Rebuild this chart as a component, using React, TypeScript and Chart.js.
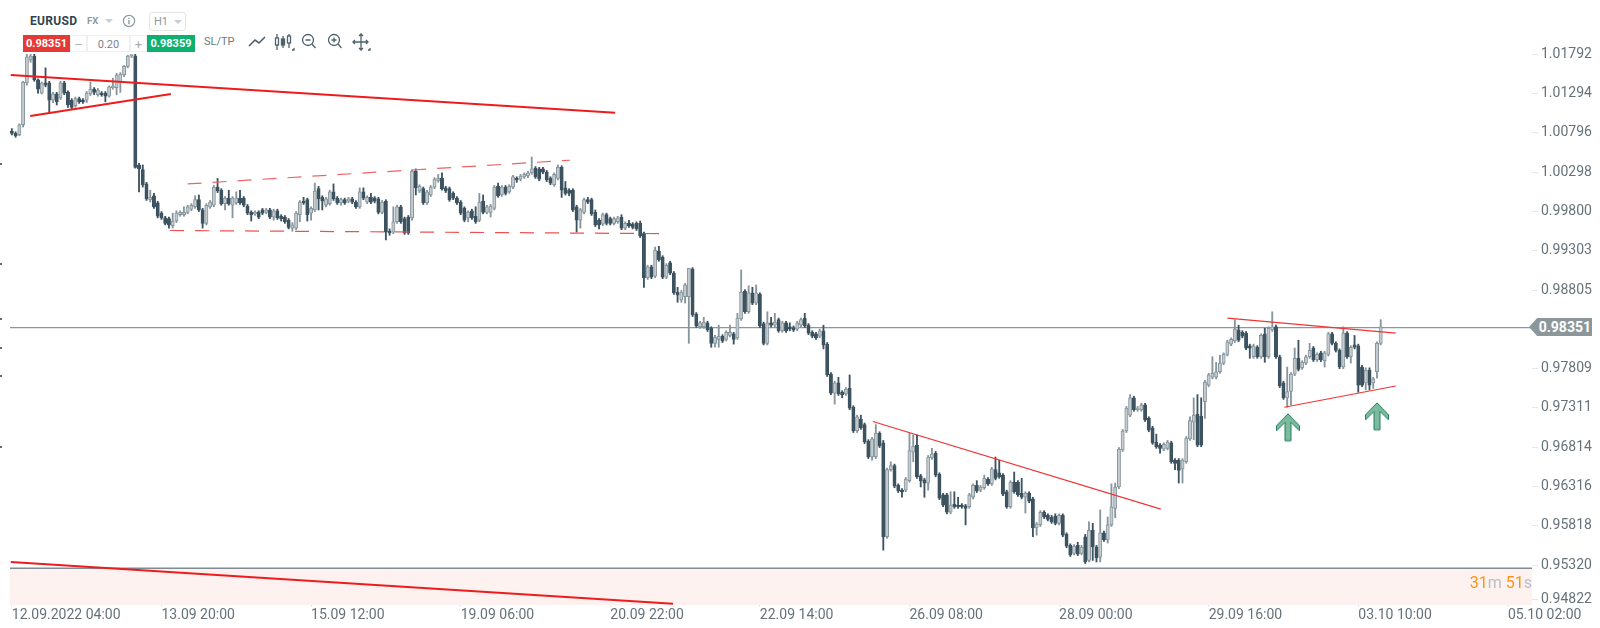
import React, { useEffect, useRef } from "react";
import { Chart, registerables } from "chart.js";

Chart.register(...registerables);

// EURUSD H1 candles, in pips (price x 10000), one entry per hour.
const opens = [
  10082,10079,10077,10090,10143,10172,10177,10147,10130,10143,
  10143,10121,10129,10124,10143,10131,10121,10114,10123,10121,
  10121,10129,10135,10128,10130,10130,10126,10137,10137,10144,
  10153,10164,10177,10177,10039,10033,10015,9995,10000,9991,
  9978,9972,9971,9962,9968,9976,9976,9979,9983,9986,
  9995,9982,9965,9986,9988,10011,10007,9990,9997,9988,
  9991,9997,9997,9987,9979,9977,9979,9982,9979,9982,
  9973,9981,9974,9973,9969,9959,9959,9976,9993,9995,
  9978,9982,10009,9998,9988,9990,10005,9997,9991,9995,
  9993,9996,9992,9986,10005,9992,9998,9997,9996,9979,
  9993,9955,9954,9967,9986,9971,9973,9972,10031,10006,
  10009,9991,10001,10011,10019,10022,10010,10009,10003,9997,
  9992,9984,9972,9981,9974,9969,9993,9979,9979,9984,
  10012,10001,10011,10005,10011,10022,10021,10024,10025,10029,
  10035,10034,10034,10030,10022,10014,10022,10036,10010,10007,
  10007,9986,9969,9979,9995,9995,9979,9969,9964,9976,
  9971,9965,9967,9973,9959,9965,9964,9965,9965,9952,
  9896,9910,9898,9930,9922,9897,9915,9902,9878,9868,
  9872,9872,9907,9850,9834,9834,9839,9832,9813,9818,
  9822,9818,9823,9825,9820,9844,9879,9853,9877,9864,
  9875,9838,9813,9839,9836,9843,9829,9839,9834,9832,
  9831,9836,9845,9836,9827,9825,9822,9829,9812,9774,
  9750,9763,9751,9749,9756,9732,9702,9717,9710,9689,
  9669,9669,9699,9687,9568,9653,9658,9633,9627,9627,
  9639,9675,9684,9645,9640,9636,9668,9674,9647,9621,
  9621,9599,9609,9608,9608,9607,9606,9618,9633,9627,
  9630,9641,9635,9653,9649,9646,9625,9606,9637,9637,
  9623,9618,9623,9616,9579,9583,9599,9595,9593,9594,
  9585,9595,9571,9557,9547,9557,9547,9568,9538,9576,
  9555,9542,9573,9564,9583,9604,9631,9678,9702,9722,
  9744,9729,9729,9735,9718,9706,9688,9684,9679,9680,
  9687,9665,9665,9654,9663,9692,9713,9723,9721,9739,
  9760,9770,9770,9777,9788,9799,9812,9816,9830,9827,
  9826,9810,9796,9808,9796,9825,9796,9830,9834,9796,
  9763,9744,9752,9774,9794,9782,9788,9796,9807,9792,
  9801,9791,9799,9825,9813,9804,9783,9826,9796,9811,
  9810,9783,9763,9779,9763,9777,9813,
];
const highs = [
  10085,10081,10091,10145,10185,10185,10185,10148,10144,10162,
  10145,10131,10131,10145,10145,10133,10123,10125,10125,10123,
  10132,10144,10137,10136,10132,10132,10139,10149,10155,10156,
  10165,10178,10190,10180,10041,10039,10017,10007,10003,9993,
  9980,9974,9973,9978,9981,9981,9986,9988,9990,10000,
  10001,9984,9990,9994,10013,10022,10009,9999,10007,9999,
  10005,10007,9999,9989,9981,9981,9981,9984,9984,9984,
  9983,9983,9976,9975,9971,9966,9980,9994,9998,9997,
  9986,10016,10012,10000,9998,10007,10015,9999,9997,9997,
  9998,9998,9994,10010,10010,10000,10003,9999,9998,9994,
  9995,9958,9986,9988,9988,9973,9975,10033,10034,10014,
  10011,10007,10013,10023,10027,10029,10012,10011,10005,9999,
  9994,9986,9981,9983,9986,10003,10001,9988,9989,10013,
  10016,10013,10013,10014,10026,10024,10027,10029,10031,10049,
  10037,10036,10036,10032,10024,10029,10039,10038,10018,10009,
  10009,9988,9984,9997,9998,9997,9982,9971,9978,9978,
  9973,9973,9974,9976,9967,9969,9966,9967,9968,9954,
  9912,9912,9935,9936,9924,9914,9917,9904,9884,9880,
  9889,9908,9909,9852,9841,9846,9841,9834,9823,9836,
  9824,9829,9836,9827,9851,9906,9881,9886,9884,9887,
  9877,9840,9853,9846,9851,9845,9841,9841,9839,9835,
  9841,9845,9851,9838,9829,9827,9831,9836,9814,9776,
  9765,9770,9753,9757,9773,9734,9722,9722,9712,9691,
  9694,9710,9701,9690,9655,9663,9660,9635,9629,9643,
  9699,9697,9697,9647,9642,9671,9680,9676,9649,9623,
  9623,9625,9625,9618,9610,9609,9623,9635,9639,9633,
  9646,9643,9656,9669,9665,9648,9627,9639,9650,9639,
  9642,9625,9625,9618,9586,9601,9601,9597,9595,9597,
  9597,9597,9573,9559,9558,9561,9557,9571,9587,9585,
  9557,9602,9575,9593,9635,9636,9681,9704,9733,9748,
  9746,9733,9737,9737,9720,9708,9698,9686,9687,9690,
  9689,9667,9667,9667,9695,9720,9744,9748,9744,9766,
  9775,9796,9789,9798,9801,9817,9820,9843,9836,9829,
  9828,9812,9812,9810,9825,9832,9834,9853,9836,9798,
  9765,9783,9776,9807,9817,9791,9798,9813,9809,9801,
  9803,9803,9827,9827,9815,9806,9834,9828,9810,9823,
  9812,9785,9782,9782,9770,9815,9843,
];
const lows = [
  10077,10074,10076,10087,10140,10169,10145,10130,10129,10138,
  10106,10118,10115,10122,10128,10112,10110,10112,10117,10117,
  10118,10127,10128,10126,10126,10119,10125,10135,10128,10131,
  10151,10162,10175,10035,10005,10011,9994,9992,9984,9972,
  9970,9963,9959,9959,9966,9974,9974,9977,9981,9984,
  9980,9959,9963,9984,9986,10004,9988,9982,9988,9972,
  9989,9989,9986,9976,9968,9975,9971,9976,9977,9971,
  9969,9970,9968,9965,9958,9955,9957,9967,9989,9968,
  9969,9980,9982,9982,9986,9988,9994,9989,9988,9989,
  9991,9990,9984,9984,9995,9990,9990,9991,9977,9977,
  9944,9950,9952,9965,9965,9951,9951,9969,10001,10004,
  9989,9989,9999,10009,10017,10007,10004,9993,9995,9989,
  9976,9967,9967,9970,9965,9967,9977,9977,9973,9982,
  9998,9999,10001,10003,10009,10017,10019,10022,10023,10027,
  10022,10019,10028,10018,10014,10012,10020,9998,10001,10000,
  9980,9954,9959,9977,9990,9975,9961,9958,9962,9963,
  9963,9963,9965,9957,9957,9960,9958,9956,9947,9884,
  9894,9895,9896,9917,9895,9895,9900,9875,9865,9865,
  9864,9813,9847,9833,9832,9832,9828,9808,9808,9808,
  9814,9816,9821,9812,9818,9842,9851,9851,9862,9862,
  9833,9811,9811,9834,9834,9827,9827,9827,9829,9828,
  9829,9834,9833,9824,9820,9818,9820,9806,9771,9748,
  9736,9747,9744,9747,9729,9700,9700,9704,9686,9667,
  9665,9667,9681,9551,9566,9651,9630,9624,9618,9625,
  9637,9663,9642,9631,9618,9627,9666,9644,9615,9606,
  9597,9597,9604,9604,9604,9583,9604,9616,9624,9625,
  9628,9633,9633,9640,9642,9620,9604,9604,9623,9619,
  9616,9598,9611,9568,9570,9581,9591,9588,9585,9583,
  9583,9568,9554,9543,9545,9544,9545,9534,9536,9538,
  9536,9536,9562,9560,9581,9592,9629,9676,9700,9720,
  9727,9727,9727,9714,9701,9685,9680,9674,9677,9678,
  9661,9653,9636,9636,9661,9690,9691,9682,9682,9718,
  9758,9768,9768,9775,9786,9797,9810,9814,9815,9820,
  9805,9794,9794,9794,9794,9789,9794,9828,9794,9757,
  9742,9732,9735,9772,9778,9780,9786,9794,9790,9790,
  9790,9783,9797,9811,9802,9781,9781,9794,9788,9806,
  9751,9758,9754,9754,9756,9769,9811,
];
const closes = [
  10079,10076,10090,10144,10176,10177,10147,10135,10143,10140,
  10121,10129,10119,10143,10130,10115,10112,10123,10119,10119,
  10130,10135,10131,10134,10128,10126,10138,10139,10153,10154,
  10164,10177,10182,10036,10034,10014,9996,9998,9986,9974,
  9972,9965,9963,9968,9978,9979,9979,9986,9988,9995,
  9982,9965,9988,9992,10011,10006,9990,9997,9990,9997,
  9997,9991,9988,9978,9976,9979,9973,9978,9982,9973,
  9981,9972,9971,9967,9960,9963,9978,9992,9991,9976,
  9984,10006,9996,9993,9996,10005,9996,9991,9995,9991,
  9996,9992,9986,10005,9997,9998,9992,9993,9979,9992,
  9954,9953,9967,9986,9967,9953,9953,10031,10010,10012,
  9991,10005,10011,10021,10022,10009,10006,9995,9997,9991,
  9978,9969,9979,9972,9967,9992,9979,9986,9987,10011,
  10000,10011,10003,10012,10024,10020,10025,10027,10029,10034,
  10024,10021,10030,10020,10016,10027,10036,10007,10003,10003,
  9982,9969,9982,9995,9992,9977,9963,9963,9976,9965,
  9965,9971,9972,9959,9965,9962,9960,9958,9949,9896,
  9910,9897,9931,9919,9897,9912,9902,9877,9874,9878,
  9887,9908,9849,9835,9839,9840,9830,9813,9821,9822,
  9816,9827,9827,9818,9845,9878,9853,9877,9864,9877,
  9835,9813,9839,9836,9840,9829,9839,9829,9831,9830,
  9839,9843,9835,9826,9822,9820,9829,9811,9773,9750,
  9763,9749,9748,9755,9731,9702,9720,9706,9688,9669,
  9692,9699,9683,9568,9653,9658,9632,9626,9625,9641,
  9677,9683,9644,9639,9636,9669,9673,9646,9617,9608,
  9599,9608,9606,9606,9606,9604,9621,9633,9626,9631,
  9642,9635,9654,9642,9644,9622,9606,9637,9625,9621,
  9618,9623,9613,9579,9584,9599,9593,9590,9587,9585,
  9595,9570,9556,9545,9556,9546,9555,9536,9576,9555,
  9541,9573,9564,9583,9606,9631,9679,9702,9731,9744,
  9729,9731,9735,9716,9703,9687,9682,9680,9685,9688,
  9663,9661,9652,9665,9693,9715,9722,9684,9684,9764,
  9773,9775,9777,9788,9799,9815,9818,9831,9817,9822,
  9807,9807,9810,9796,9823,9796,9832,9834,9796,9759,
  9744,9752,9774,9794,9780,9789,9796,9804,9792,9799,
  9792,9801,9825,9813,9804,9783,9826,9796,9808,9808,
  9760,9760,9779,9760,9768,9813,9834,
];

// Axis: candle indexes of the time labels, pip positions of the price labels.
const xTickIndexes = [0, 40, 80, 120, 160, 200, 240, 280, 320, 360, 400];
const xTickLabels = [
  "12.09.2022 04:00", "13.09 20:00", "15.09 12:00", "19.09 06:00", "20.09 22:00", "22.09 14:00",
  "26.09 08:00", "28.09 00:00", "29.09 16:00", "03.10 10:00", "05.10 02:00",
];
const yTickValues = [9489, 9532, 9581.8, 9631.6, 9681.4, 9731.1, 9780.9, 9880.5, 9930.3, 9980, 10029.8, 10079.6, 10129.4, 10179.2];
const yTickLabels = [
  "0.94822", "0.95320", "0.95818", "0.96316", "0.96814", "0.97311", "0.97809",
  "0.98805", "0.99303", "0.99800", "1.00298", "1.00796", "1.01294", "1.01792",
];

// Levels and drawn lines: [candle index, pips]
const priceLevel = 9833;
const supportLevel = 9528;
const trendResistanceLong: number[][] = [[-0.3, 10153], [161.3, 10105]];
const trendSupportShort: number[][] = [[4.9, 10101], [42.5, 10129]];
const channelTop: number[][] = [[47, 10015], [149.2, 10045]];
const channelBottom: number[][] = [[42.3, 9956], [174, 9952]];
const downTrend: number[][] = [[230.2, 9714], [307.2, 9603]];
const wedgeTop: number[][] = [[325, 9845], [370, 9826]];
const wedgeBottom: number[][] = [[340.2, 9732], [370, 9759]];
const lowerLongTrend: number[][] = [[-0.3, 9536], [176.8, 9483]];
const arrowMarks: number[][] = [[341.2, 9706], [365, 9720]];

const X_MIN = -0.5;
const X_MAX = 406.45;
const UP_FILL = "#c4ccd0";
const UP_LINE = "#87959c";
const DOWN = "#3d5360";
const RED = "#ee1c1c";
const FONT = "Roboto";

const pts = (rows: number[][]) => rows.map(([x, y]) => ({ x, y }));

function makeArrow(): HTMLCanvasElement {
  const c = document.createElement("canvas");
  c.width = 26;
  c.height = 30;
  const g = c.getContext("2d")!;
  g.translate(13, 1);
  g.beginPath();
  const shape = [[0, 0], [11.5, 12], [11.5, 17], [3, 8.5], [3, 27], [-3, 27], [-3, 8.5], [-11.5, 17], [-11.5, 12]];
  shape.forEach(([x, y], i) => (i ? g.lineTo(x, y) : g.moveTo(x, y)));
  g.closePath();
  g.fillStyle = "#7dbb9f";
  g.fill();
  g.strokeStyle = "#1f7f5c";
  g.lineWidth = 1;
  g.stroke();
  return c;
}

function trendSet(rows: number[][], width: number, color: string, dash: number[] = []) {
  return {
    type: "line",
    data: pts(rows),
    borderColor: color,
    borderWidth: width,
    borderDash: dash,
    pointRadius: 0,
    fill: false,
    order: 1,
    tension: 0,
  };
}

function noAxisPadding(s: any) {
  s.paddingLeft = 0;
  s.paddingRight = 0;
  s.paddingTop = 0;
  s.paddingBottom = 0;
}

const Tri = ({ x, y }: { x: number; y: number }) => (
  <div style={{ position: "absolute", left: x, top: y, width: 0, height: 0, borderLeft: "4px solid transparent", borderRight: "4px solid transparent", borderTop: "4px solid #c6cdd1" }} />
);

const Label = ({ x, y, w, h, bg, color, size, bold, children, border }: any) => (
  <div style={{ position: "absolute", left: x, top: y, width: w, height: h, lineHeight: h + "px", background: bg, color, fontSize: size, fontWeight: bold ? 700 : 400, textAlign: "center", boxSizing: "border-box", border, whiteSpace: "nowrap" }}>{children}</div>
);

export default function App() {
  const ref = useRef<HTMLCanvasElement>(null);
  useEffect(() => {
    document.body.style.margin = "0";
    const canvas = ref.current!;
    const idx = opens.map((_, i) => i);
    const isUp = (i: number) => closes[i] >= opens[i];
    const chart = new Chart(canvas, {
      type: "bar",
      data: {
        datasets: [
          {
            type: "line",
            data: pts([[X_MIN, supportLevel], [X_MAX, supportLevel]]),
            borderColor: "#7f8c94",
            borderWidth: 1.6,
            pointRadius: 0,
            fill: "start",
            backgroundColor: "#fef2f1",
            order: 10,
          },
          {
            type: "line",
            data: pts([[X_MIN, priceLevel], [X_MAX, priceLevel]]),
            borderColor: "#8c979b",
            borderWidth: 1.2,
            pointRadius: 0,
            fill: false,
            order: 9,
          },
          {
            data: idx.map((i) => ({ x: i, y: [lows[i], highs[i]] })),
            backgroundColor: idx.map((i) => (isUp(i) ? UP_LINE : DOWN)),
            barThickness: 1.2,
            grouped: false,
            order: 4,
          },
          {
            data: idx.map((i) => ({ x: i, y: [opens[i], closes[i]] })),
            backgroundColor: idx.map((i) => (isUp(i) ? UP_FILL : DOWN)),
            borderColor: idx.map((i) => (isUp(i) ? UP_LINE : DOWN)),
            borderWidth: 1,
            borderSkipped: false,
            barThickness: 3.3,
            grouped: false,
            order: 3,
          },
          trendSet(trendResistanceLong, 2, RED),
          trendSet(trendSupportShort, 2, RED),
          trendSet(channelTop, 1.2, "#ee6464", [14, 11]),
          trendSet(channelBottom, 1.2, "#ee5050", [14, 11]),
          trendSet(downTrend, 1.2, "#f03434"),
          trendSet(wedgeTop, 1.2, "#f03434"),
          trendSet(wedgeBottom, 1.2, "#f03434"),
          trendSet(lowerLongTrend, 2, RED),
          {
            type: "scatter",
            data: pts(arrowMarks),
            pointStyle: makeArrow(),
            pointRadius: 13,
            showLine: false,
            order: 0,
          },
        ] as any,
      },
      options: {
        responsive: false,
        animation: false,
        events: [],
        layout: { autoPadding: false, padding: { left: 10, top: 0, right: 0, bottom: 0 } },
        plugins: { legend: { display: false }, tooltip: { enabled: false }, title: { display: false } },
        scales: {
          x: {
            type: "linear",
            min: X_MIN,
            max: X_MAX,
            offset: false,
            grid: { offset: false, drawOnChartArea: false, drawTicks: true, tickLength: 2, color: "#e6e8ea" },
            border: { display: false },
            afterBuildTicks: (s: any) => {
              s.ticks = xTickIndexes.map((value) => ({ value }));
            },
            afterFit: (s: any) => {
              s.height = 23;
              noAxisPadding(s);
            },
            ticks: {
              autoSkip: false,
              maxRotation: 0,
              minRotation: 0,
              align: "start",
              padding: 0,
              color: "#667279",
              font: { family: FONT, size: 14 },
              callback: (_: any, i: number) => xTickLabels[i],
            },
          },
          y: {
            type: "linear",
            position: "right",
            min: 9481.5,
            max: 10248,
            grid: { drawOnChartArea: false, drawTicks: true, tickLength: 6, color: "#e6e8ea" },
            border: { display: false },
            afterBuildTicks: (s: any) => {
              s.ticks = yTickValues.map((value) => ({ value }));
            },
            afterFit: (s: any) => {
              s.width = 68;
              noAxisPadding(s);
            },
            ticks: {
              autoSkip: false,
              padding: 3,
              color: "#667279",
              font: { family: FONT, size: 14 },
              callback: (_: any, i: number) => yTickLabels[i],
            },
          },
        },
      } as any,
    });
    return () => chart.destroy();
  }, []);

  return (
    <div style={{ position: "absolute", left: 0, top: 0, width: 1600, height: 628, overflow: "hidden", background: "#fff", fontFamily: FONT }}>
      <canvas ref={ref} width={1600} height={628} style={{ position: "absolute", left: 0, top: 0, display: "block", filter: "blur(0.35px)" }} />

      {/* trading panel */}
      <div style={{ position: "absolute", left: 0, top: 0, width: 375, height: 54, background: "#fff" }} />
      <div style={{ position: "absolute", left: 30, top: 12, fontSize: 12, fontWeight: 700, color: "#2f4450", letterSpacing: 0.3, lineHeight: "18px" }}>EURUSD</div>
      <div style={{ position: "absolute", left: 87, top: 13, fontSize: 9.5, fontWeight: 700, color: "#8b9aa3", lineHeight: "16px" }}>FX</div>
      <Tri x={105} y={19} />
      <svg style={{ position: "absolute", left: 122, top: 14 }} width="14" height="14">
        <circle cx="7" cy="7" r="5.6" fill="none" stroke="#8b9aa3" strokeWidth="1.2" />
        <rect x="6.3" y="6" width="1.4" height="4.2" fill="#8b9aa3" />
        <rect x="6.3" y="3.7" width="1.4" height="1.4" fill="#8b9aa3" />
      </svg>
      <div style={{ position: "absolute", left: 149, top: 12, width: 37, height: 19, boxSizing: "border-box", border: "1px solid #e3e6e8", borderRadius: 3 }} />
      <div style={{ position: "absolute", left: 154, top: 13, fontSize: 11, color: "#8b9aa3", lineHeight: "17px" }}>H1</div>
      <Tri x={174} y={20} />
      <Label x={23} y={35} w={47} h={17} bg="#e53935" color="#fff" size={11} bold>0.98351</Label>
      <Label x={70} y={35} w={17} h={17} bg="#fff" color="#a9b2b7" size={13} border="1px solid #eef0f1">–</Label>
      <Label x={87} y={35} w={43} h={17} bg="#fff" color="#79858b" size={11} border="1px solid #eef0f1">0.20</Label>
      <Label x={130} y={35} w={17} h={17} bg="#fff" color="#a9b2b7" size={13} border="1px solid #eef0f1">+</Label>
      <Label x={147} y={35} w={48} h={17} bg="#0cb06f" color="#fff" size={11} bold>0.98359</Label>
      <div style={{ position: "absolute", left: 204, top: 33, fontSize: 11, color: "#6c7a82", lineHeight: "18px" }}>SL/TP</div>
      <svg style={{ position: "absolute", left: 246, top: 33 }} width="126" height="20" fill="none" stroke="#4f616b" strokeWidth="1.3">
        <path d="M3 13 L9 7 L13 10 L19 4" strokeWidth="1.6" />
        <path d="M31 1 V17 M37 3 V15 M43 1 V15" />
        <rect x="29.5" y="5" width="3" height="7" fill="#fff" />
        <rect x="35.5" y="6" width="3" height="6" fill="#4f616b" />
        <rect x="41.5" y="3" width="3" height="7" fill="#fff" />
        <path d="M46 17 h2 v-2" />
        <circle cx="62" cy="7" r="5.5" />
        <path d="M66 11 L69.5 15 M59.5 7 h5" />
        <circle cx="88" cy="7" r="5.5" />
        <path d="M92 11 L95.5 15 M85.5 7 h5 M88 4.5 v5" />
        <path d="M115 1 V17 M107 9 H122 M113 3 L115 1 L117 3 M113 15 L115 17 L117 15 M109 7 L107 9 L109 11 M120 7 L122 9 L120 11" />
        <path d="M122 17 h2 v-2" />
      </svg>

      {/* cropped marks at the left edge of the window */}
      {[163, 263, 318, 347, 375, 446].map((y) => (
        <div key={y} style={{ position: "absolute", left: 0, top: y, width: 2, height: 2, background: "#6b6b6b" }} />
      ))}

      {/* countdown */}
      <div style={{ position: "absolute", right: 68, top: 573, fontSize: 16, lineHeight: "20px", whiteSpace: "nowrap" }}>
        <span style={{ color: "#f7941d" }}>31</span>
        <span style={{ color: "#b9bfc3" }}>m </span>
        <span style={{ color: "#f7941d" }}>51</span>
        <span style={{ color: "#b9bfc3" }}>s</span>
      </div>

      {/* current price tag */}
      <div style={{ position: "absolute", left: 1529, top: 318, width: 63, height: 18, background: "#8c979b", clipPath: "polygon(0 50%, 13% 0, 100% 0, 100% 100%, 13% 100%)", color: "#fff", fontSize: 14, fontWeight: 700, lineHeight: "19px", textAlign: "right", paddingRight: 1, boxSizing: "border-box" }}>0.98351</div>
    </div>
  );
}
